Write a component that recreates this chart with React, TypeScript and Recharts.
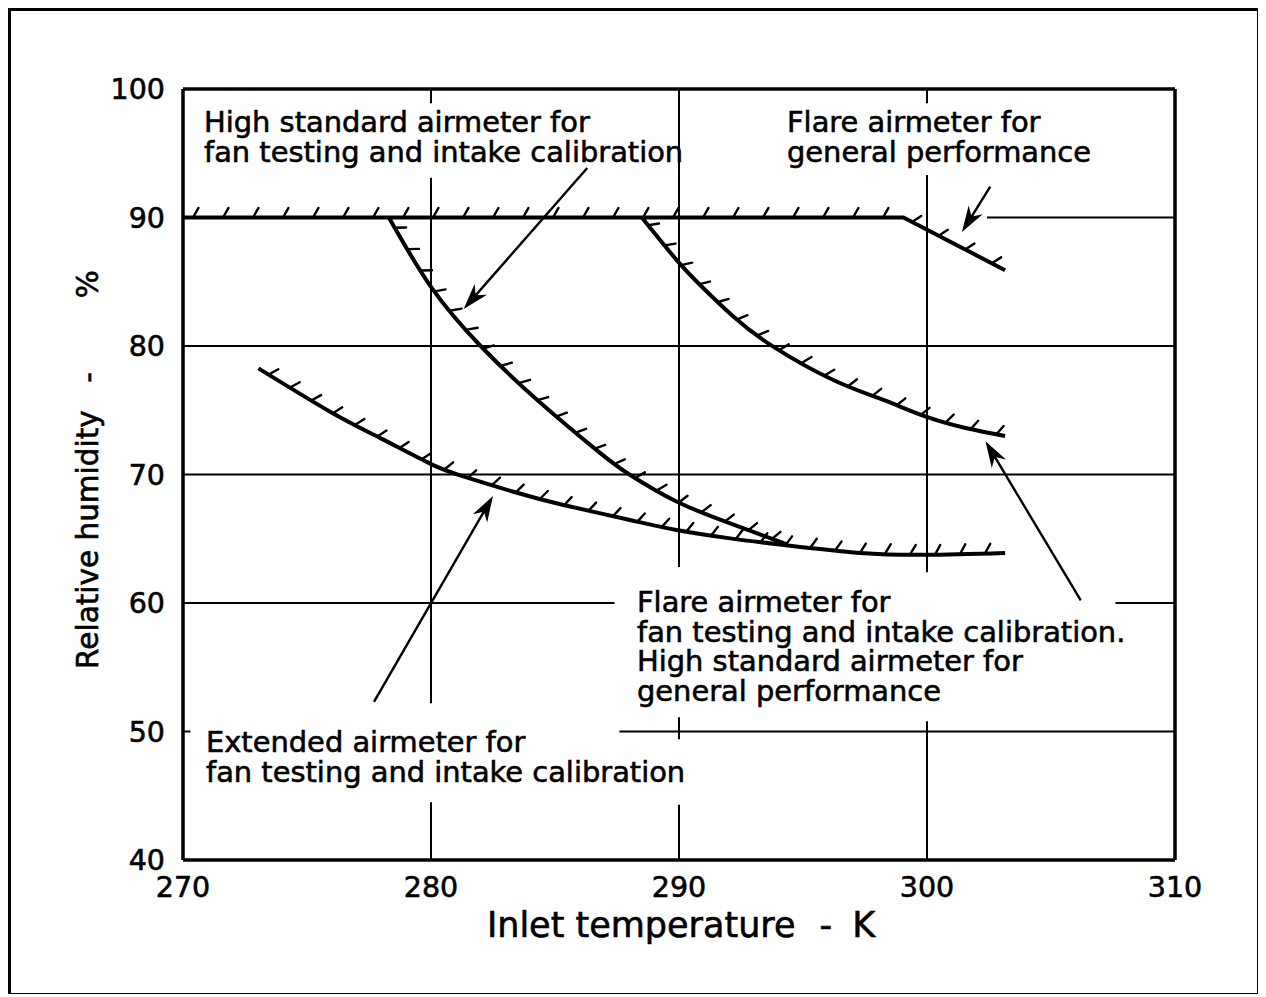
import React from 'react';
import { LineChart, Line, XAxis, YAxis, ReferenceLine } from 'recharts';

// ---------- data ----------
const xTicks = [270, 280, 290, 300, 310];
const yTicks = [40, 50, 60, 70, 80, 90, 100];

// 90% limit line that breaks down into the "flare airmeter for general performance" limit
const topLimit = [
  { t: 270, h: 90 },
  { t: 299.05, h: 90 },
  { t: 303.15, h: 85.9 },
];

// High standard airmeter for fan testing and intake calibration
const highStdFan = [
  { t: 278.3, h: 90 },
  { t: 280, h: 84.6 },
  { t: 282, h: 80.0 },
  { t: 284.4, h: 75.6 },
  { t: 286.8, h: 71.7 },
  { t: 288, h: 70.0 },
  { t: 289.9, h: 67.9 },
  { t: 292.06, h: 66.2 },
  { t: 294.3, h: 64.6 },
];

// Flare airmeter for fan testing / high standard airmeter for general performance
const flareFan = [
  { t: 288.5, h: 90 },
  { t: 289.9, h: 86.7 },
  { t: 290.85, h: 84.75 },
  { t: 292.19, h: 82.3 },
  { t: 293.8, h: 79.95 },
  { t: 296.22, h: 77.35 },
  { t: 298.24, h: 75.8 },
  { t: 299.96, h: 74.5 },
  { t: 301.6, h: 73.6 },
  { t: 303.15, h: 73.0 },
];

// Extended airmeter for fan testing and intake calibration
const extended = [
  { t: 273.04, h: 78.26 },
  { t: 275.93, h: 74.89 },
  { t: 277.94, h: 72.85 },
  { t: 279.96, h: 70.85 },
  { t: 281.3, h: 69.85 },
  { t: 283.32, h: 68.66 },
  { t: 285.34, h: 67.63 },
  { t: 288.02, h: 66.46 },
  { t: 289.9, h: 65.68 },
  { t: 292.06, h: 65.03 },
  { t: 294.3, h: 64.5 },
  { t: 297.3, h: 63.9 },
  { t: 300, h: 63.75 },
  { t: 303.15, h: 63.9 },
];

// Arrows: [tail, head] in data units
const arrows = [
  [{ x: 286.3, y: 93.85 }, { x: 281.37, y: 83.0 }],
  [{ x: 302.55, y: 92.4 }, { x: 301.45, y: 89.0 }],
  [{ x: 306.2, y: 60.2 }, { x: 302.4, y: 72.45 }],
  [{ x: 277.7, y: 52.3 }, { x: 282.46, y: 68.2 }],
];

// Visible grid line pieces (grid is interrupted by the annotations)
const vGrid = [
  { x: 280, pieces: [[100, 98.9], [93.1, 52.2], [44.5, 40]] },
  { x: 290, pieces: [[100, 62.8], [51.1, 49.4], [44.3, 40]] },
  { x: 300, pieces: [[100, 98.9], [93.3, 62.4], [50.8, 40]] },
];
const hGrid = [
  { y: 90, pieces: [[270, 299], [302.42, 310]] },
  { y: 80, pieces: [[270, 310]] },
  { y: 70, pieces: [[270, 310]] },
  { y: 60, pieces: [[270, 287.4], [307.6, 310]] },
  { y: 50, pieces: [[270, 270.3], [287.6, 310]] },
];

// ---------- drawing helpers ----------
type P = { x: number; y: number };
const FONT = "'DejaVu Sans', 'Liberation Sans', sans-serif";

function hatchDot(n: number, spacing: number, offset: number, store: { pts: P[] }) {
  const ANG = (30 * Math.PI) / 180;
  const L = 11;
  return (props: any) => {
    const { cx, cy, index } = props;
    if (index === 0) store.pts = [];
    store.pts[index] = { x: cx, y: cy };
    if (index !== n - 1) return <g key={`h-${index}`} />;
    const pts = store.pts;
    const marks: React.ReactNode[] = [];
    let dist = offset;
    let acc = 0;
    for (let i = 0; i < pts.length - 1; i++) {
      const a = pts[i];
      const b = pts[i + 1];
      if (!a || !b) continue;
      const dx = b.x - a.x;
      const dy = b.y - a.y;
      const len = Math.hypot(dx, dy);
      if (!len) continue;
      const fx = dx / len;
      const fy = dy / len;
      const nx = fy;
      const ny = -fx;
      const c = Math.cos(ANG);
      const s = Math.sin(ANG);
      const hx = nx * c + fx * s;
      const hy = ny * c + fy * s;
      while (dist <= acc + len) {
        const u = dist - acc;
        const px = a.x + fx * u;
        const py = a.y + fy * u;
        marks.push(
          <line
            key={marks.length}
            x1={px}
            y1={py}
            x2={px + hx * L}
            y2={py + hy * L}
            stroke="#000"
            strokeWidth={2.4}
            strokeLinecap="round"
          />
        );
        dist += spacing;
      }
      acc += len;
    }
    return <g key={`h-${index}`}>{marks}</g>;
  };
}

const ArrowShape = (props: any) => {
  const { x1, y1, x2, y2 } = props;
  const dx = x2 - x1;
  const dy = y2 - y1;
  const len = Math.hypot(dx, dy) || 1;
  const fx = dx / len;
  const fy = dy / len;
  const nx = -fy;
  const ny = fx;
  const hl = 22;
  const hw = 7;
  const bx = x2 - fx * hl;
  const by = y2 - fy * hl;
  const notchX = x2 - fx * hl * 0.7;
  const notchY = y2 - fy * hl * 0.7;
  return (
    <g>
      <line x1={x1} y1={y1} x2={notchX} y2={notchY} stroke="#000" strokeWidth={2.4} />
      <polygon
        points={`${x2},${y2} ${bx + nx * hw},${by + ny * hw} ${notchX},${notchY} ${bx - nx * hw},${by - ny * hw}`}
        fill="#000"
        stroke="#000"
        strokeWidth={1.2}
      />
    </g>
  );
};

const stores = {
  top: { pts: [] as P[] },
  hs: { pts: [] as P[] },
  ff: { pts: [] as P[] },
  ex: { pts: [] as P[] },
};

const XTitle = (props: any) => {
  const vb = props.viewBox || { x: 175, y: 852, width: 992 };
  return (
    <text
      x={vb.x + vb.width / 2 + 2}
      y={vb.y + 77}
      textAnchor="middle"
      fontFamily={FONT}
      fontSize={35}
      fill="#000"
      stroke="#000"
      strokeWidth={0.6}
    >
      Inlet temperature
      <tspan dx={24}>-</tspan>
      <tspan dx={20}>K</tspan>
    </text>
  );
};

const YTitle = (props: any) => {
  const vb = props.viewBox || { x: 75, y: 81, height: 771 };
  const cx = vb.x + 15;
  const cy = vb.y + vb.height / 2 - 5;
  return (
    <text
      x={cx}
      y={cy}
      transform={`rotate(-90 ${cx} ${cy})`}
      textAnchor="middle"
      fontFamily={FONT}
      fontSize={29.5}
      fill="#000"
      stroke="#000"
      strokeWidth={0.6}
    >
      Relative humidity
      <tspan dx={28}>-</tspan>
      <tspan dx={74}>%</tspan>
    </text>
  );
};

const labelStyle: React.CSSProperties = {
  position: 'absolute',
  fontFamily: FONT,
  fontSize: 28.9,
  lineHeight: '29.5px',
  whiteSpace: 'pre',
  color: '#000',
  WebkitTextStroke: '0.6px #000',
};

const tickStyle = {
  fill: '#000',
  fontSize: 28.5,
  fontFamily: FONT,
  stroke: '#000',
  strokeWidth: 0.6,
};

export default function App() {
  return (
    <div style={{ position: 'relative', width: 1250, height: 986 }}>
      <div
        style={{
          position: 'absolute',
          left: 0,
          top: 0,
          width: 1252,
          height: 988,
          boxSizing: 'border-box',
          border: '3px solid #000',
        }}
      />
      <LineChart
        width={1250}
        height={986}
        margin={{ top: 81, right: 83, bottom: 74, left: 75 }}
      >
        <XAxis
          type="number"
          dataKey="t"
          domain={[270, 310]}
          ticks={xTicks}
          allowDataOverflow
          height={60}
          tickSize={0}
          tickMargin={17}
          tickLine={false}
          axisLine={{ stroke: '#000', strokeWidth: 3.5 }}
          tick={tickStyle}
          label={{ content: XTitle }}
        />
        <YAxis
          type="number"
          dataKey="h"
          domain={[40, 100]}
          ticks={yTicks}
          allowDataOverflow
          width={100}
          tickSize={0}
          tickMargin={18}
          tickLine={false}
          axisLine={{ stroke: '#000', strokeWidth: 3.5 }}
          tick={tickStyle}
          label={{ content: YTitle }}
        />
        {vGrid.map((g) =>
          g.pieces.map((p, i) => (
            <ReferenceLine
              key={`v${g.x}-${i}`}
              segment={[{ x: g.x, y: p[0] }, { x: g.x, y: p[1] }]}
              stroke="#000"
              strokeWidth={2}
            />
          ))
        )}
        {hGrid.map((g) =>
          g.pieces.map((p, i) => (
            <ReferenceLine
              key={`h${g.y}-${i}`}
              segment={[{ x: p[0], y: g.y }, { x: p[1], y: g.y }]}
              stroke="#000"
              strokeWidth={2}
            />
          ))
        )}
        <ReferenceLine y={100} stroke="#000" strokeWidth={3.5} />
        <ReferenceLine x={310} stroke="#000" strokeWidth={3.5} />
        {arrows.map((a, i) => (
          <ReferenceLine key={`a${i}`} segment={a} shape={ArrowShape} />
        ))}
        <Line
          data={topLimit}
          dataKey="h"
          type="linear"
          stroke="#000"
          strokeWidth={4}
          isAnimationActive={false}
          activeDot={false}
          dot={hatchDot(topLimit.length, 30, 10, stores.top)}
        />
        <Line
          data={highStdFan}
          dataKey="h"
          type="natural"
          stroke="#000"
          strokeWidth={4}
          isAnimationActive={false}
          activeDot={false}
          dot={hatchDot(highStdFan.length, 25, 12, stores.hs)}
        />
        <Line
          data={flareFan}
          dataKey="h"
          type="natural"
          stroke="#000"
          strokeWidth={4}
          isAnimationActive={false}
          activeDot={false}
          dot={hatchDot(flareFan.length, 26, 10, stores.ff)}
        />
        <Line
          data={extended}
          dataKey="h"
          type="natural"
          stroke="#000"
          strokeWidth={4}
          isAnimationActive={false}
          activeDot={false}
          dot={hatchDot(extended.length, 25, 12, stores.ex)}
        />
      </LineChart>
      <div style={{ ...labelStyle, left: 196, top: 100 }}>
        {'High standard airmeter for\nfan testing and intake calibration'}
      </div>
      <div style={{ ...labelStyle, left: 779, top: 100 }}>
        {'Flare airmeter for\ngeneral performance'}
      </div>
      <div style={{ ...labelStyle, left: 629, top: 580 }}>
        {'Flare airmeter for\nfan testing and intake calibration.\nHigh standard airmeter for\ngeneral performance'}
      </div>
      <div style={{ ...labelStyle, left: 198, top: 720 }}>
        {'Extended airmeter for\nfan testing and intake calibration'}
      </div>
    </div>
  );
}
